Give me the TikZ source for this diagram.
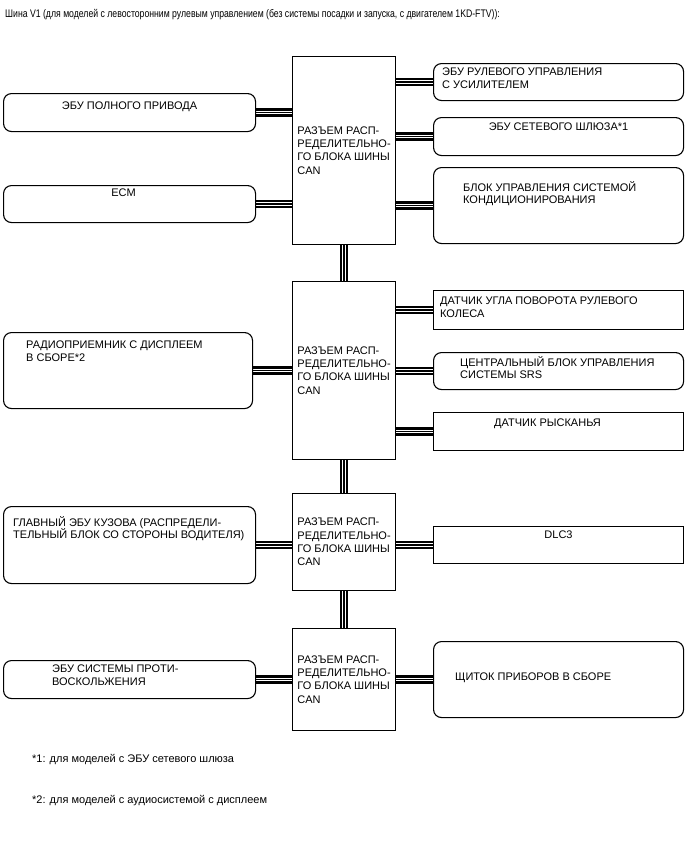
\documentclass[tikz,border=0pt]{standalone}
\usepackage{fontspec}
\setmainfont{Liberation Sans}
\newfontfamily\narrowsans[FakeStretch=0.79]{Liberation Sans}
\usetikzlibrary{positioning, backgrounds}

\newcommand{\jtext}{РАЗЪЕМ РАСП-\\РЕДЕЛИТЕЛЬНО-\\ГО БЛОКА ШИНЫ\\CAN}

\begin{document}
\begin{tikzpicture}[
        x=1pt, y=-1pt,
        unit/.style={draw, rounded corners=8pt, line width=1.1pt, anchor=north west, minimum width=252pt, inner sep=0pt},
        sensor/.style={unit, rounded corners=0pt},
        can/.style={draw, line width=1.1pt, anchor=north west, minimum width=103pt, align=left, inner sep=2pt, font=\fontsize{11}{13.3}\selectfont},
        lbl/.style={inner sep=0pt, align=left, font=\fontsize{11}{12.8}\selectfont},
        note/.style={inner sep=0pt, anchor=base west, font=\fontsize{11}{12}\selectfont},
        bus/.style={line width=2.2pt, double=white, double distance=3.8pt},
        busmid/.style={line width=1.2pt}
    ]
        \useasboundingbox (0,0) rectangle (688,852);

        \node[note, font=\narrowsans\fontsize{11}{12}\selectfont] (title) at (5,17) {Шина V1 (для моделей с левосторонним рулевым управлением (без системы посадки и запуска, с двигателем 1KD-FTV)):};

        % CAN junction connectors
        \node[can, minimum height=188pt] (j1) at (292,56) {\jtext};
        \node[can, minimum height=178pt] (j2) at (292,281) {\jtext};
        \node[can, minimum height=97pt] (j3) at (292,493) {\jtext};
        \node[can, minimum height=102pt] (j4) at (292,628) {\jtext};

        % left side
        \node[unit, minimum height=38pt] (awd) at (3,93) {};
        \node[unit, minimum height=37pt] (ecm) at (3,185) {};
        \node[unit, minimum height=76pt, minimum width=249pt] (radio) at (3,332) {};
        \node[unit, minimum height=77pt] (mbecu) at (3,506) {};
        \node[unit, minimum height=38pt] (abs) at (3,660) {};

        \node[lbl, below=9pt of awd.north] (awdt) {ЭБУ ПОЛНОГО ПРИВОДА};
        \node[lbl, anchor=north] (ecmt) at ([xshift=-6pt, yshift=-4pt]ecm.north) {ECM};
        \node[lbl, below right=9pt and 23pt of radio.north west] (radiot) {РАДИОПРИЕМНИК С ДИСПЛЕЕМ\\В СБОРЕ*2};
        \node[lbl, below right=10pt and 10pt of mbecu.north west] (mbecut) {ГЛАВНЫЙ ЭБУ КУЗОВА (РАСПРЕДЕЛИ-\\ТЕЛЬНЫЙ БЛОК СО СТОРОНЫ ВОДИТЕЛЯ)};
        \node[lbl, below right=5pt and 49pt of abs.north west] (abst) {ЭБУ СИСТЕМЫ ПРОТИ-\\ВОСКОЛЬЖЕНИЯ};

        % right side
        \node[unit, minimum height=37pt, minimum width=250pt] (eps) at (433,63) {};
        \node[unit, minimum height=38pt, minimum width=250pt] (gw) at (433,117) {};
        \node[unit, minimum height=76pt, minimum width=250pt] (ac) at (433,167) {};
        \node[sensor, minimum height=39pt, minimum width=250pt] (steer) at (433,290) {};
        \node[unit, minimum height=37pt, minimum width=250pt] (srs) at (433,352) {};
        \node[sensor, minimum height=38pt, minimum width=250pt] (yaw) at (433,412) {};
        \node[sensor, minimum height=37pt, minimum width=250pt] (dlc) at (433,526) {};
        \node[unit, minimum height=76pt, minimum width=250pt] (meter) at (433,641) {};

        \node[lbl, below right=5pt and 9pt of eps.north west] (epst) {ЭБУ РУЛЕВОГО УПРАВЛЕНИЯ\\С УСИЛИТЕЛЕМ};
        \node[lbl, below=6pt of gw.north] (gwt) {ЭБУ СЕТЕВОГО ШЛЮЗА*1};
        \node[lbl, below right=14pt and 30pt of ac.north west] (act) {БЛОК УПРАВЛЕНИЯ СИСТЕМОЙ\\КОНДИЦИОНИРОВАНИЯ};
        \node[lbl, below right=7pt and 7pt of steer.north west] (steert) {ДАТЧИК УГЛА ПОВОРОТА РУЛЕВОГО\\КОЛЕСА};
        \node[lbl, below right=4pt and 27pt of srs.north west] (srst) {ЦЕНТРАЛЬНЫЙ БЛОК УПРАВЛЕНИЯ\\СИСТЕМЫ SRS};
        \node[lbl, anchor=north] (yawt) at ([xshift=-11pt, yshift=-7pt]yaw.north) {ДАТЧИК РЫСКАНЬЯ};
        \node[lbl, below=5pt of dlc.north] (dlct) {DLC3};
        \node[lbl, below right=32pt and 22pt of meter.north west] (metert) {ЩИТОК ПРИБОРОВ В СБОРЕ};

        % footnotes
        \node[note] (fn1) at (32,762) {*1: для моделей с ЭБУ сетевого шлюза};
        \node[note] (fn2) at (32,803) {*2: для моделей с аудиосистемой с дисплеем};

        % bus lines
        \begin{scope}[on background layer]
            \foreach \a/\b in {awd/j1, ecm/j1, radio/j2, mbecu/j3, abs/j4}{
                \draw[bus] (\a.east) -- (\a.east -| \b.west);
                \draw[busmid] (\a.east) -- (\a.east -| \b.west);
            }
            \foreach \a/\b in {eps/j1, gw/j1, ac/j1, steer/j2, srs/j2, yaw/j2, dlc/j3, meter/j4}{
                \draw[bus] (\a.west) -- (\a.west -| \b.east);
                \draw[busmid] (\a.west) -- (\a.west -| \b.east);
            }
            \foreach \a/\b in {j1/j2, j2/j3, j3/j4}{
                \draw[bus] (\a.south) -- (\b.north);
                \draw[busmid] (\a.south) -- (\b.north);
            }
        \end{scope}
\end{tikzpicture}
\end{document}
